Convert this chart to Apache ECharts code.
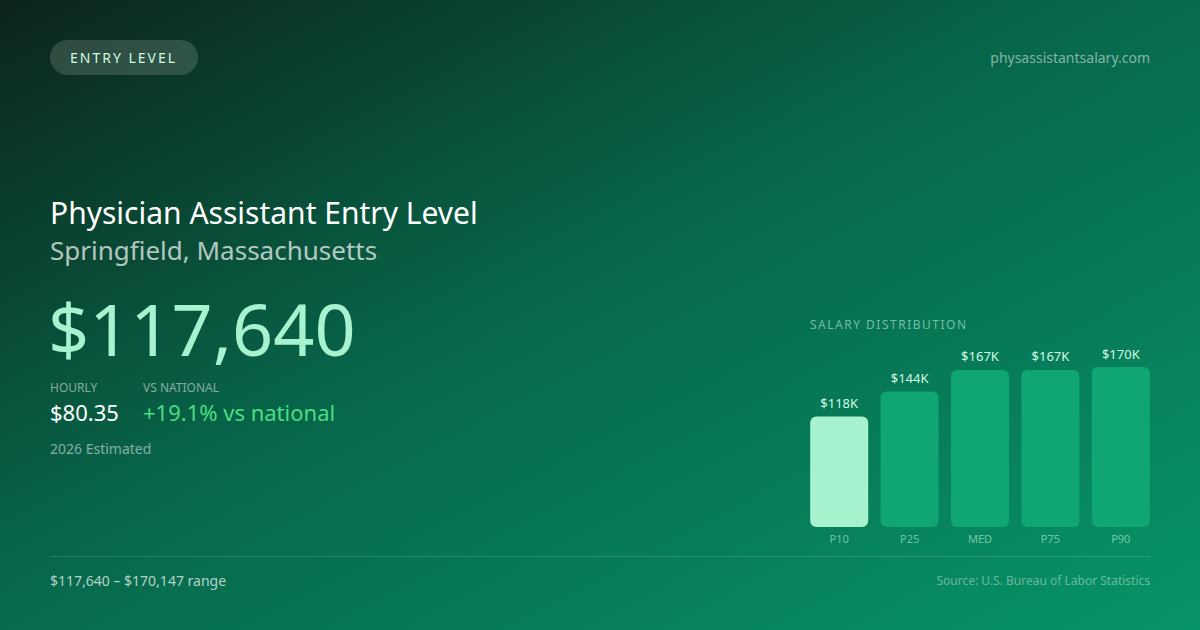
<!DOCTYPE html>
<html>
<head>
<meta charset="UTF-8">
<title>Physician Assistant Entry Level - Springfield</title>
<script src="https://cdn.jsdelivr.net/npm/echarts@6/dist/echarts.min.js"></script>
<style>
html,body{margin:0;padding:0;background:#0b3a2a;}
#main{width:1200px;height:630px;}
</style>
</head>
<body>
<div id="main"></div>
<script type="text/javascript">
// salary percentiles
var categories = ['P10', 'P25', 'MED', 'P75', 'P90'];
var salaries = [117640, 144000, 167000, 167000, 170147];
var barLabels = ['$118K', '$144K', '$167K', '$167K', '$170K'];

var FONT = '"Noto Sans", "Open Sans", sans-serif';
// text that gets letter spacing after render (svg renderer)
var spaced = {'ENTRY LEVEL':2, 'SALARY DISTRIBUTION':1.5};

function txt(x, y, text, size, color, extra){
	var o = {
		type:'text', x:x, y:y,
		style:{text:text, fontFamily:FONT, fontSize:size, fill:color, textVerticalAlign:'middle'}
	};
	if(extra){
		for(var k in extra) o.style[k] = extra[k];
	}
	return o;
}

var myChart = echarts.init(document.getElementById('main'), null, {renderer:'svg'});
var option = {
	animation:false,
	backgroundColor:{
		type:'linear', x:0, y:0, x2:1, y2:1,
		colorStops:[
			{offset:0, color:'#0c2419'},
			{offset:0.45, color:'#07664a'},
			{offset:1, color:'#079468'}
		]
	},
	grid:{left:804, right:44, top:367, bottom:103},
	xAxis:{
		type:'category',
		data:categories,
		axisLine:{show:false},
		axisTick:{show:false},
		axisLabel:{color:'rgba(209,250,229,0.55)', fontSize:11, fontFamily:FONT, margin:6}
	},
	yAxis:{
		type:'value', min:0, max:170147,
		show:false, splitLine:{show:false}
	},
	series:[{
		type:'bar',
		barWidth:58,
		data:salaries.map(function(v, i){
			return {
				value:v,
				itemStyle:{color: i === 0 ? '#a7f3d0' : '#0fa673', borderRadius:6}
			};
		}),
		label:{
			show:true, position:'top', distance:7,
			color:'#d1fae5', fontSize:13, fontFamily:FONT,
			formatter:function(p){ return barLabels[p.dataIndex]; }
		}
	}],
	graphic:[
		{type:'rect', shape:{x:50, y:40, width:148, height:35, r:17.5}, style:{fill:'rgba(255,255,255,0.15)'}},
		txt(70, 57, 'ENTRY LEVEL', 14, '#d1fae5'),
		txt(1150, 57, 'physassistantsalary.com', 14, 'rgba(255,255,255,0.5)', {textAlign:'right'}),

		txt(50, 212, 'Physician Assistant Entry Level', 30, '#ffffff'),
		txt(50, 250, 'Springfield, Massachusetts', 26, 'rgba(255,255,255,0.7)'),
		txt(48, 328, '$117,640', 72, '#a7f3d0'),

		txt(50, 387, 'HOURLY', 12, 'rgba(255,255,255,0.5)'),
		txt(143, 387, 'VS NATIONAL', 12, 'rgba(255,255,255,0.5)'),
		txt(50, 412, '$80.35', 22, '#ffffff'),
		txt(143, 412, '+19.1% vs national', 22, '#4ade80'),
		txt(50, 448, '2026 Estimated', 14, 'rgba(255,255,255,0.5)'),

		txt(810, 324, 'SALARY DISTRIBUTION', 12, 'rgba(209,250,229,0.55)'),

		{type:'line', shape:{x1:50, y1:556.5, x2:1150, y2:556.5}, style:{stroke:'rgba(255,255,255,0.12)', lineWidth:1}},
		txt(50, 580, '$117,640 \u2013 $170,147 range', 14, 'rgba(255,255,255,0.7)'),
		txt(1150, 580, 'Source: U.S. Bureau of Labor Statistics', 12, 'rgba(255,255,255,0.4)', {textAlign:'right'})
	]
};
myChart.setOption(option);

function spaceOut(){
	var nodes = document.querySelectorAll('#main text');
	for(var i=0;i<nodes.length;i++){
		var s = spaced[nodes[i].textContent];
		if(s) nodes[i].setAttribute('letter-spacing', s);
	}
}
myChart.on('finished', spaceOut);
setTimeout(spaceOut, 50);
</script>
</body>
</html>
